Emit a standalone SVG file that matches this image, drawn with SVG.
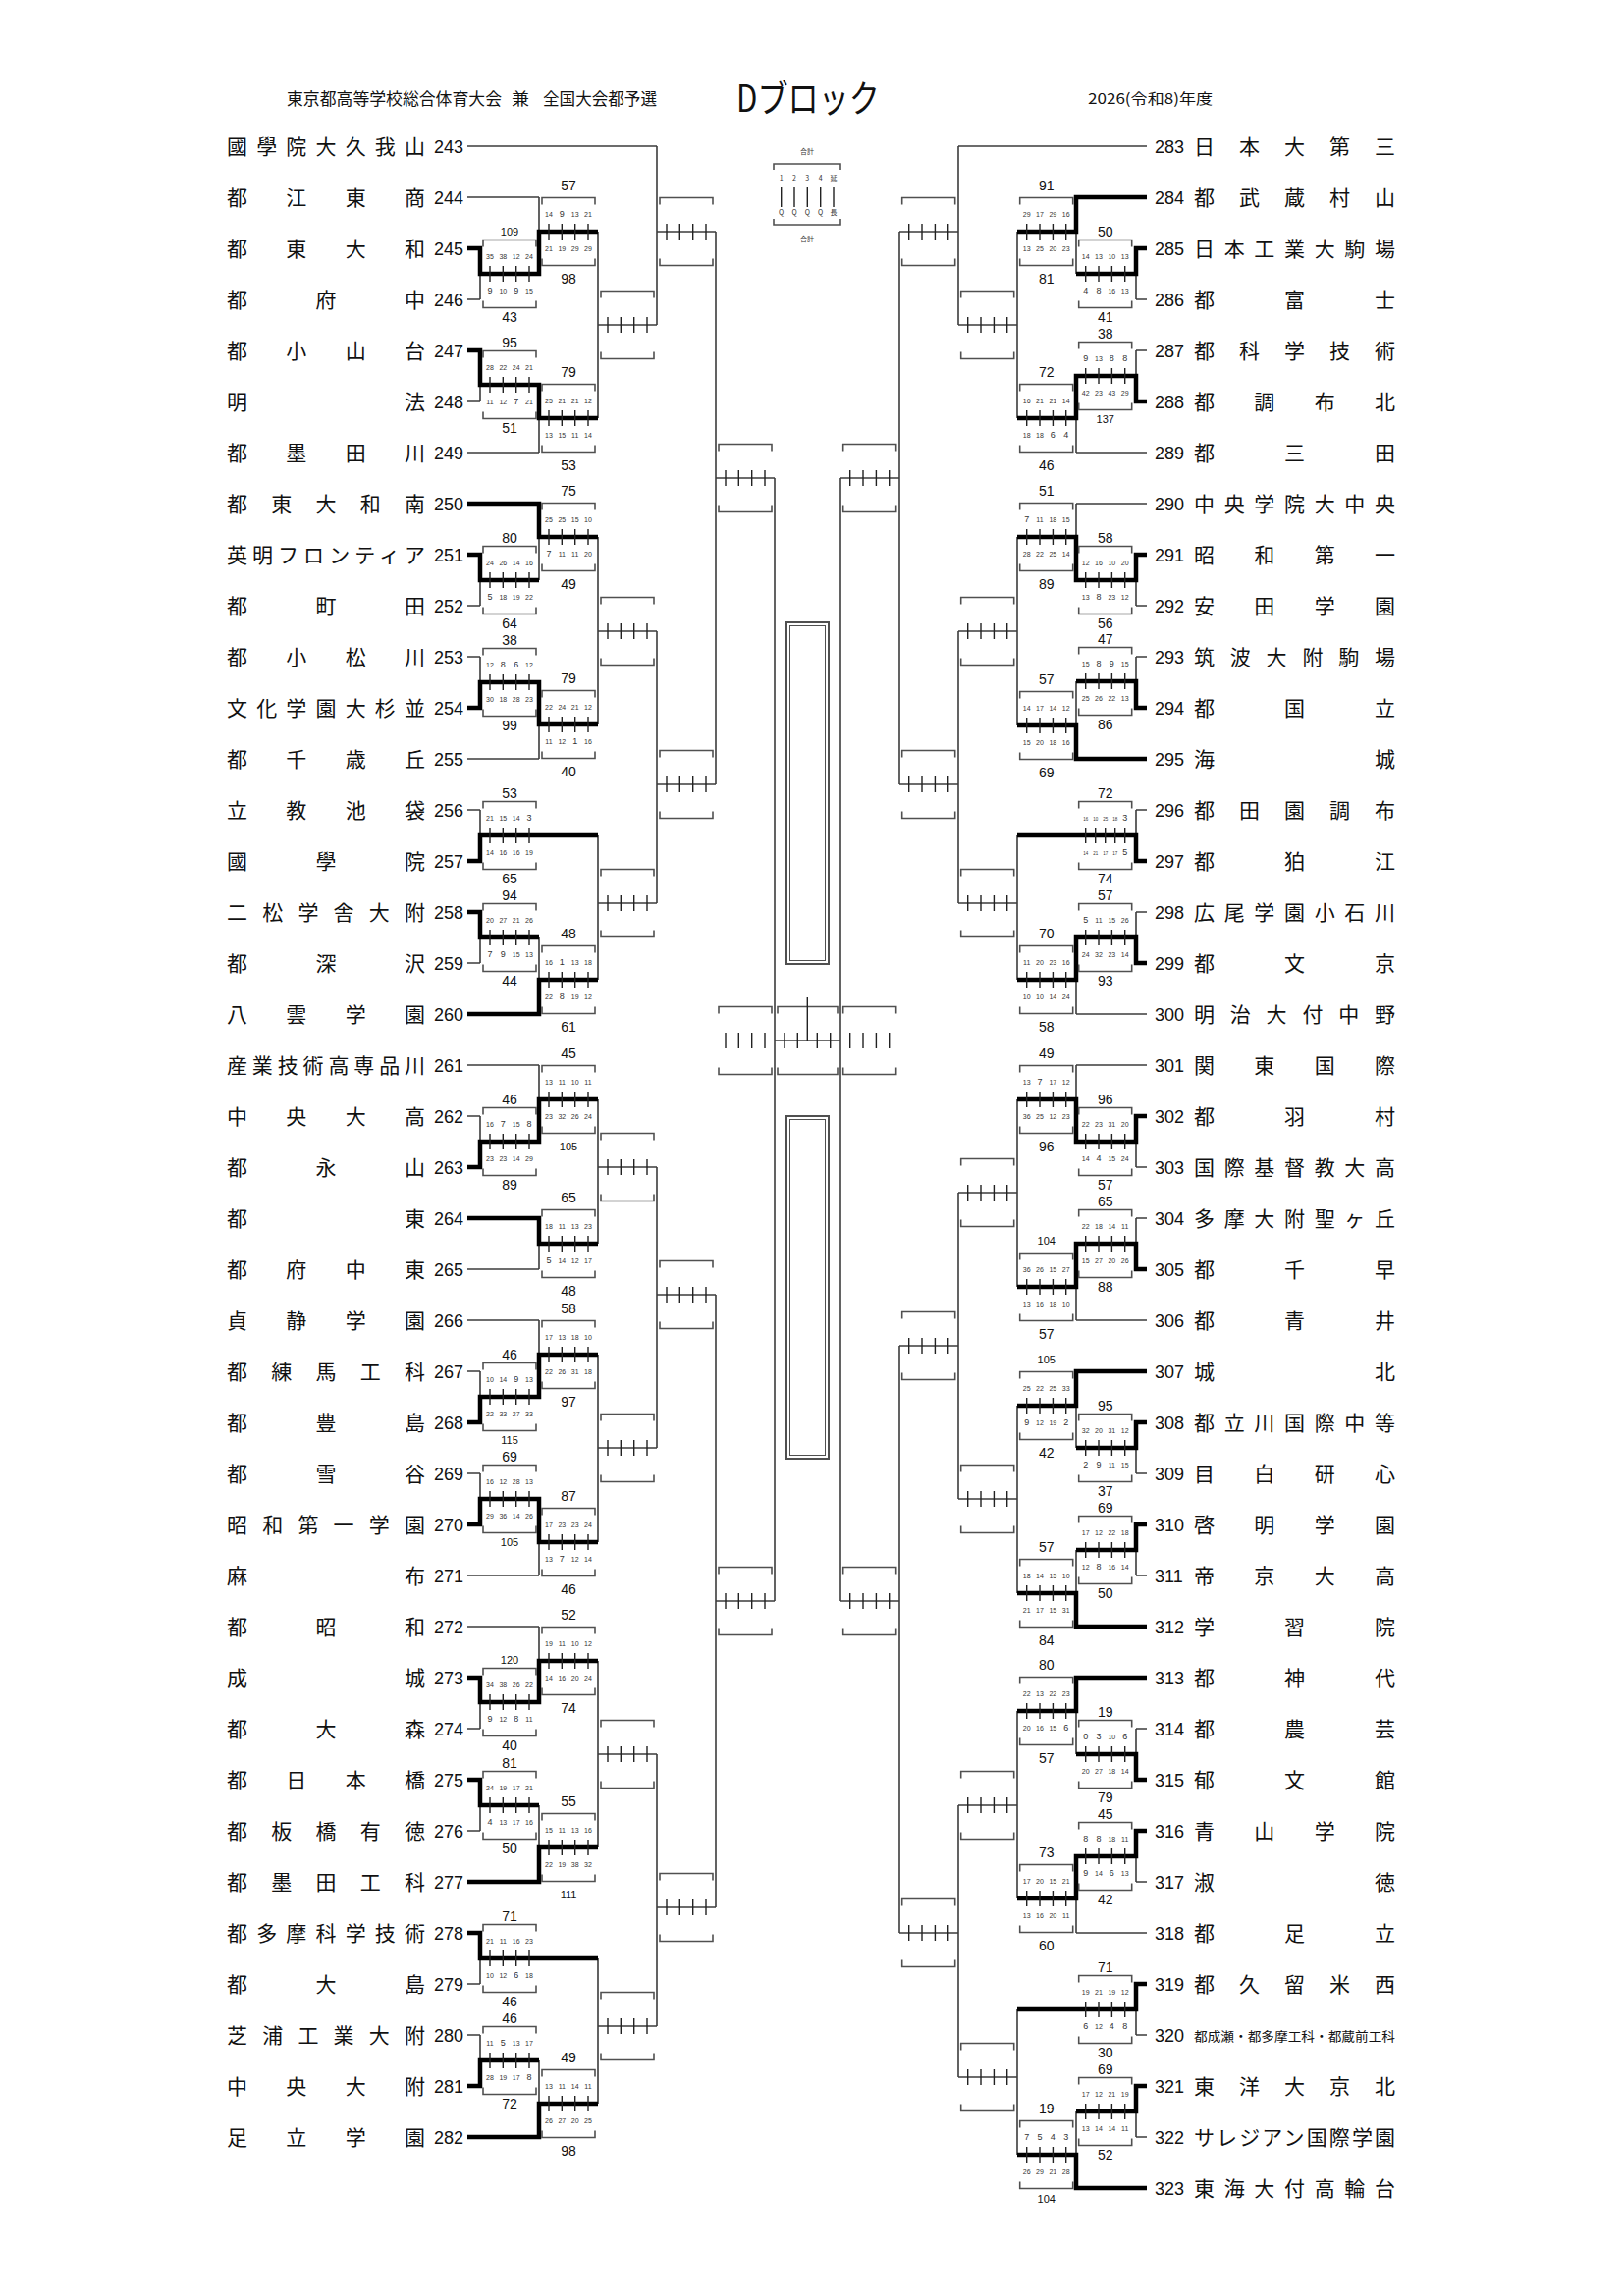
<svg xmlns="http://www.w3.org/2000/svg" width="1654" height="2339" viewBox="0 0 1654 2339">
<style>
.t{stroke:#3c3c3c;stroke-width:1.6;fill:none}
.w{stroke:#000;stroke-width:4.5;fill:none;stroke-linejoin:miter}
.bk{stroke:#505050;stroke-width:1.6;fill:none}
.tk{stroke:#222;stroke-width:1.4;fill:none}
.nm{font-family:"Noto Sans CJK JP",sans-serif;font-size:21px;fill:#111}
.no{font-family:"Liberation Sans","Noto Sans CJK JP",sans-serif;font-size:18px;fill:#111}
.s{font-family:"Liberation Sans",sans-serif;font-size:7px;fill:#333;text-anchor:middle}
.b{font-size:9px}
.tt{font-family:"Liberation Sans",sans-serif;font-size:14px;fill:#111;text-anchor:middle}
.t3{font-size:11px}
.hd{font-family:"Noto Sans CJK JP",sans-serif;fill:#111}
.lg{font-family:"Noto Sans CJK JP",sans-serif;font-size:7px;fill:#333;text-anchor:middle}
</style>
<defs>
<g id="bx"><path class="bk" d="M0,-27.5V-34.5H54V-27.5M0,27.5V34.5H54V27.5"/><path class="tk" d="M7,-8V8M20.3,-8V8M33.7,-8V8M47,-8V8"/></g>
<g id="bx5"><path class="bk" d="M0,-27.5V-34.5H54V-27.5M0,27.5V34.5H54V27.5"/><path class="tk" d="M7,-8V8M17,-8V8M27,-8V8M37,-8V8M47,-8V8"/></g>
</defs>
<rect width="1654" height="2339" fill="#fff"/>

<g id="header">
<text class="hd" x="292" y="107" style="font-size:17px" textLength="219" lengthAdjust="spacingAndGlyphs">東京都高等学校総合体育大会</text>
<text class="hd" x="521" y="107" style="font-size:17px" textLength="18" lengthAdjust="spacingAndGlyphs">兼</text>
<text class="hd" x="553" y="107" style="font-size:17px" textLength="116" lengthAdjust="spacingAndGlyphs">全国大会都予選</text>
<text class="hd" x="750" y="114" style="font-size:38px" textLength="146" lengthAdjust="spacingAndGlyphs">Dブロック</text>
<text class="hd" x="1108" y="106" style="font-size:15px" textLength="127" lengthAdjust="spacingAndGlyphs">2026(令和8)年度</text>
</g>

<g id="legend">
<text class="lg" x="822" y="157">合計</text>
<path class="bk" d="M788,173V167H856V173M788,223V229H856V223"/>
<text class="lg" y="184"><tspan x="795.7">1</tspan><tspan x="809">2</tspan><tspan x="822.3">3</tspan><tspan x="835.7">4</tspan><tspan x="849">延</tspan></text>
<path class="tk" d="M795.7,190V211M809,190V211M822.3,190V211M835.7,190V211M849,190V211"/>
<text class="lg" y="219"><tspan x="795.7">Q</tspan><tspan x="809">Q</tspan><tspan x="822.3">Q</tspan><tspan x="835.7">Q</tspan><tspan x="849">長</tspan></text>
<text class="lg" x="822" y="246">合計</text>
</g>

<g id="center">
<rect x="801" y="634" width="43" height="348" fill="none" stroke="#505050" stroke-width="2"/>
<rect x="804.5" y="637.5" width="36" height="341" fill="none" stroke="#505050" stroke-width="1"/>
<rect x="801" y="1137" width="43" height="349" fill="none" stroke="#505050" stroke-width="2"/>
<rect x="804.5" y="1140.5" width="36" height="342" fill="none" stroke="#505050" stroke-width="1"/>
</g>

<g id="connectors">
<path class="t" d="M476,149H669M476,201H549M476,253H489M476,305H489M476,357H489M476,409H489M476,461H549M476,513H549M476,565H489M476,617H489M476,669H489M476,721H489M476,773H549M476,825H489M476,877H489M476,929H489M476,981H489M476,1033H549M476,1085H549M476,1137H489M476,1189H489M476,1241H549M476,1293H549M476,1345H549M476,1397H489M476,1449H489M476,1501H489M476,1553H489M476,1605H549M476,1657H549M476,1709H489M476,1761H489M476,1813H489M476,1865H489M476,1917H549M476,1969H489M476,2021H489M476,2073H489M476,2125H489M476,2177H549
M489,253V305M489,279H549M489,357V409M489,392H549M489,565V617M489,591H549M489,669V721M489,695H549M489,825V877M489,851H609M489,929V981M489,955H549M489,1137V1189M489,1163H549M489,1397V1449M489,1423H549M489,1501V1553M489,1527H549M489,1709V1761M489,1734H549M489,1813V1865M489,1839H549M489,1969V2021M489,1995H609M489,2073V2125M489,2099H549
M549,201V279M549,236H609M549,392V461M549,426H609M549,513V591M549,547H609M549,695V773M549,738H609M549,955V1033M549,998H609M549,1085V1163M549,1120H609M549,1241V1293M549,1267H609M549,1345V1423M549,1380H609M549,1527V1605M549,1571H609M549,1657V1734M549,1692H609M549,1839V1917M549,1882H609M549,2099V2177M549,2143H609
M609,236V426M609,331H669M609,547V738M609,643H669M609,851V998M609,920H669M609,1120V1267M609,1189H669M609,1380V1571M609,1475H669M609,1692V1882M609,1787H669M609,1995V2143M609,2064H669
M669,149V331M669,236H729M669,643V920M669,799H729M669,1189V1475M669,1319H729M669,1787V2064M669,1943H729
M729,236V799M729,487H789M729,1319V1943M729,1631H789
M789,487V1631M789,1060H856M856,487V1631
M1168,149H976M1168,201H1096M1168,253H1157M1168,305H1157M1168,357H1157M1168,409H1157M1168,461H1096M1168,513H1096M1168,565H1157M1168,617H1157M1168,669H1157M1168,721H1157M1168,773H1096M1168,825H1157M1168,877H1157M1168,929H1157M1168,981H1157M1168,1033H1096M1168,1085H1096M1168,1137H1157M1168,1189H1157M1168,1241H1157M1168,1293H1157M1168,1345H1096M1168,1397H1096M1168,1449H1157M1168,1501H1157M1168,1553H1157M1168,1605H1157M1168,1657H1096M1168,1709H1096M1168,1761H1157M1168,1813H1157M1168,1865H1157M1168,1917H1157M1168,1969H1096M1168,2021H1157M1168,2073H1157M1168,2125H1157M1168,2177H1157M1168,2229H1096
M1157,253V305M1157,279H1096M1157,357V409M1157,383H1096M1157,565V617M1157,591H1096M1157,669V721M1157,694H1096M1157,825V877M1157,851H1036M1157,929V981M1157,955H1096M1157,1137V1189M1157,1163H1096M1157,1241V1293M1157,1267H1096M1157,1449V1501M1157,1475H1096M1157,1553V1605M1157,1579H1096M1157,1761V1813M1157,1787H1096M1157,1865V1917M1157,1891H1096M1157,2021V2073M1157,2047H1036M1157,2125V2177M1157,2151H1096
M1096,201V279M1096,236H1036M1096,383V461M1096,426H1036M1096,513V591M1096,547H1036M1096,694V773M1096,739H1036M1096,955V1033M1096,998H1036M1096,1085V1163M1096,1120H1036M1096,1267V1345M1096,1311H1036M1096,1397V1475M1096,1432H1036M1096,1579V1657M1096,1623H1036M1096,1709V1787M1096,1743H1036M1096,1891V1969M1096,1934H1036M1096,2151V2229M1096,2195H1036
M1036,236V426M1036,331H976M1036,547V739M1036,643H976M1036,851V998M1036,920H976M1036,1120V1311M1036,1215H976M1036,1432V1623M1036,1527H976M1036,1743V1934M1036,1839H976M1036,2047V2195M1036,2116H976
M976,149V331M976,236H916M976,643V920M976,799H916M976,1215V1527M976,1371H916M976,1839V2116M976,1969H916
M916,236V799M916,487H856M916,1371V1969M916,1631H856"/>
<path class="w" d="M476,253H489V279H549V236H609M476,357H489V392H549V426H609M476,513H549V547H609M476,565H489V591H549M476,721H489V695H549V738H609M476,877H489V851H609M476,929H489V955H549M476,1033H549V998H609M476,1189H489V1163H549V1120H609M476,1241H549V1267H609M476,1449H489V1423H549V1380H609M476,1553H489V1527H549V1571H609M476,1709H489V1734H549V1692H609M476,1813H489V1839H549M476,1917H549V1882H609M476,1969H489V1995H609M476,2125H489V2099H549M476,2177H549V2143H609"/>
<path class="w" d="M1168,201H1096V236H1036M1168,253H1157V279H1096M1168,409H1157V383H1096V426H1036M1168,565H1157V591H1096V547H1036M1168,721H1157V694H1096M1168,773H1096V739H1036M1168,877H1157V851H1036M1168,981H1157V955H1096V998H1036M1168,1137H1157V1163H1096V1120H1036M1168,1293H1157V1267H1096V1311H1036M1168,1397H1096V1432H1036M1168,1449H1157V1475H1096M1168,1553H1157V1579H1096M1168,1657H1096V1623H1036M1168,1709H1096V1743H1036M1168,1813H1157V1787H1096M1168,1865H1157V1891H1096V1934H1036M1168,2021H1157V2047H1036M1168,2125H1157V2151H1096M1168,2229H1096V2195H1036"/>
</g>

<g id="teams-left">
<g id="t243"><text class="no" x="472" y="156" text-anchor="end">243</text><text class="nm" x="231" y="156.5" textLength="202" lengthAdjust="spacing">國學院大久我山</text></g>
<g id="t244"><text class="no" x="472" y="208" text-anchor="end">244</text><text class="nm" x="231" y="208.5" textLength="202" lengthAdjust="spacing">都江東商</text></g>
<g id="t245"><text class="no" x="472" y="260" text-anchor="end">245</text><text class="nm" x="231" y="260.5" textLength="202" lengthAdjust="spacing">都東大和</text></g>
<g id="t246"><text class="no" x="472" y="312" text-anchor="end">246</text><text class="nm" x="231" y="312.5" textLength="202" lengthAdjust="spacing">都府中</text></g>
<g id="t247"><text class="no" x="472" y="364" text-anchor="end">247</text><text class="nm" x="231" y="364.5" textLength="202" lengthAdjust="spacing">都小山台</text></g>
<g id="t248"><text class="no" x="472" y="416" text-anchor="end">248</text><text class="nm" x="231" y="416.5" textLength="202" lengthAdjust="spacing">明法</text></g>
<g id="t249"><text class="no" x="472" y="468" text-anchor="end">249</text><text class="nm" x="231" y="468.5" textLength="202" lengthAdjust="spacing">都墨田川</text></g>
<g id="t250"><text class="no" x="472" y="520" text-anchor="end">250</text><text class="nm" x="231" y="520.5" textLength="202" lengthAdjust="spacing">都東大和南</text></g>
<g id="t251"><text class="no" x="472" y="572" text-anchor="end">251</text><text class="nm" x="231" y="572.5" textLength="202" lengthAdjust="spacing">英明フロンティア</text></g>
<g id="t252"><text class="no" x="472" y="624" text-anchor="end">252</text><text class="nm" x="231" y="624.5" textLength="202" lengthAdjust="spacing">都町田</text></g>
<g id="t253"><text class="no" x="472" y="676" text-anchor="end">253</text><text class="nm" x="231" y="676.5" textLength="202" lengthAdjust="spacing">都小松川</text></g>
<g id="t254"><text class="no" x="472" y="728" text-anchor="end">254</text><text class="nm" x="231" y="728.5" textLength="202" lengthAdjust="spacing">文化学園大杉並</text></g>
<g id="t255"><text class="no" x="472" y="780" text-anchor="end">255</text><text class="nm" x="231" y="780.5" textLength="202" lengthAdjust="spacing">都千歳丘</text></g>
<g id="t256"><text class="no" x="472" y="832" text-anchor="end">256</text><text class="nm" x="231" y="832.5" textLength="202" lengthAdjust="spacing">立教池袋</text></g>
<g id="t257"><text class="no" x="472" y="884" text-anchor="end">257</text><text class="nm" x="231" y="884.5" textLength="202" lengthAdjust="spacing">國學院</text></g>
<g id="t258"><text class="no" x="472" y="936" text-anchor="end">258</text><text class="nm" x="231" y="936.5" textLength="202" lengthAdjust="spacing">二松学舎大附</text></g>
<g id="t259"><text class="no" x="472" y="988" text-anchor="end">259</text><text class="nm" x="231" y="988.5" textLength="202" lengthAdjust="spacing">都深沢</text></g>
<g id="t260"><text class="no" x="472" y="1040" text-anchor="end">260</text><text class="nm" x="231" y="1040.5" textLength="202" lengthAdjust="spacing">八雲学園</text></g>
<g id="t261"><text class="no" x="472" y="1092" text-anchor="end">261</text><text class="nm" x="231" y="1092.5" textLength="202" lengthAdjust="spacing">産業技術高専品川</text></g>
<g id="t262"><text class="no" x="472" y="1144" text-anchor="end">262</text><text class="nm" x="231" y="1144.5" textLength="202" lengthAdjust="spacing">中央大高</text></g>
<g id="t263"><text class="no" x="472" y="1196" text-anchor="end">263</text><text class="nm" x="231" y="1196.5" textLength="202" lengthAdjust="spacing">都永山</text></g>
<g id="t264"><text class="no" x="472" y="1248" text-anchor="end">264</text><text class="nm" x="231" y="1248.5" textLength="202" lengthAdjust="spacing">都東</text></g>
<g id="t265"><text class="no" x="472" y="1300" text-anchor="end">265</text><text class="nm" x="231" y="1300.5" textLength="202" lengthAdjust="spacing">都府中東</text></g>
<g id="t266"><text class="no" x="472" y="1352" text-anchor="end">266</text><text class="nm" x="231" y="1352.5" textLength="202" lengthAdjust="spacing">貞静学園</text></g>
<g id="t267"><text class="no" x="472" y="1404" text-anchor="end">267</text><text class="nm" x="231" y="1404.5" textLength="202" lengthAdjust="spacing">都練馬工科</text></g>
<g id="t268"><text class="no" x="472" y="1456" text-anchor="end">268</text><text class="nm" x="231" y="1456.5" textLength="202" lengthAdjust="spacing">都豊島</text></g>
<g id="t269"><text class="no" x="472" y="1508" text-anchor="end">269</text><text class="nm" x="231" y="1508.5" textLength="202" lengthAdjust="spacing">都雪谷</text></g>
<g id="t270"><text class="no" x="472" y="1560" text-anchor="end">270</text><text class="nm" x="231" y="1560.5" textLength="202" lengthAdjust="spacing">昭和第一学園</text></g>
<g id="t271"><text class="no" x="472" y="1612" text-anchor="end">271</text><text class="nm" x="231" y="1612.5" textLength="202" lengthAdjust="spacing">麻布</text></g>
<g id="t272"><text class="no" x="472" y="1664" text-anchor="end">272</text><text class="nm" x="231" y="1664.5" textLength="202" lengthAdjust="spacing">都昭和</text></g>
<g id="t273"><text class="no" x="472" y="1716" text-anchor="end">273</text><text class="nm" x="231" y="1716.5" textLength="202" lengthAdjust="spacing">成城</text></g>
<g id="t274"><text class="no" x="472" y="1768" text-anchor="end">274</text><text class="nm" x="231" y="1768.5" textLength="202" lengthAdjust="spacing">都大森</text></g>
<g id="t275"><text class="no" x="472" y="1820" text-anchor="end">275</text><text class="nm" x="231" y="1820.5" textLength="202" lengthAdjust="spacing">都日本橋</text></g>
<g id="t276"><text class="no" x="472" y="1872" text-anchor="end">276</text><text class="nm" x="231" y="1872.5" textLength="202" lengthAdjust="spacing">都板橋有徳</text></g>
<g id="t277"><text class="no" x="472" y="1924" text-anchor="end">277</text><text class="nm" x="231" y="1924.5" textLength="202" lengthAdjust="spacing">都墨田工科</text></g>
<g id="t278"><text class="no" x="472" y="1976" text-anchor="end">278</text><text class="nm" x="231" y="1976.5" textLength="202" lengthAdjust="spacing">都多摩科学技術</text></g>
<g id="t279"><text class="no" x="472" y="2028" text-anchor="end">279</text><text class="nm" x="231" y="2028.5" textLength="202" lengthAdjust="spacing">都大島</text></g>
<g id="t280"><text class="no" x="472" y="2080" text-anchor="end">280</text><text class="nm" x="231" y="2080.5" textLength="202" lengthAdjust="spacing">芝浦工業大附</text></g>
<g id="t281"><text class="no" x="472" y="2132" text-anchor="end">281</text><text class="nm" x="231" y="2132.5" textLength="202" lengthAdjust="spacing">中央大附</text></g>
<g id="t282"><text class="no" x="472" y="2184" text-anchor="end">282</text><text class="nm" x="231" y="2184.5" textLength="202" lengthAdjust="spacing">足立学園</text></g>
</g>

<g id="teams-right">
<g id="t283"><text class="no" x="1176" y="156">283</text><text class="nm" x="1216" y="156.5" textLength="205" lengthAdjust="spacing">日本大第三</text></g>
<g id="t284"><text class="no" x="1176" y="208">284</text><text class="nm" x="1216" y="208.5" textLength="205" lengthAdjust="spacing">都武蔵村山</text></g>
<g id="t285"><text class="no" x="1176" y="260">285</text><text class="nm" x="1216" y="260.5" textLength="205" lengthAdjust="spacing">日本工業大駒場</text></g>
<g id="t286"><text class="no" x="1176" y="312">286</text><text class="nm" x="1216" y="312.5" textLength="205" lengthAdjust="spacing">都富士</text></g>
<g id="t287"><text class="no" x="1176" y="364">287</text><text class="nm" x="1216" y="364.5" textLength="205" lengthAdjust="spacing">都科学技術</text></g>
<g id="t288"><text class="no" x="1176" y="416">288</text><text class="nm" x="1216" y="416.5" textLength="205" lengthAdjust="spacing">都調布北</text></g>
<g id="t289"><text class="no" x="1176" y="468">289</text><text class="nm" x="1216" y="468.5" textLength="205" lengthAdjust="spacing">都三田</text></g>
<g id="t290"><text class="no" x="1176" y="520">290</text><text class="nm" x="1216" y="520.5" textLength="205" lengthAdjust="spacing">中央学院大中央</text></g>
<g id="t291"><text class="no" x="1176" y="572">291</text><text class="nm" x="1216" y="572.5" textLength="205" lengthAdjust="spacing">昭和第一</text></g>
<g id="t292"><text class="no" x="1176" y="624">292</text><text class="nm" x="1216" y="624.5" textLength="205" lengthAdjust="spacing">安田学園</text></g>
<g id="t293"><text class="no" x="1176" y="676">293</text><text class="nm" x="1216" y="676.5" textLength="205" lengthAdjust="spacing">筑波大附駒場</text></g>
<g id="t294"><text class="no" x="1176" y="728">294</text><text class="nm" x="1216" y="728.5" textLength="205" lengthAdjust="spacing">都国立</text></g>
<g id="t295"><text class="no" x="1176" y="780">295</text><text class="nm" x="1216" y="780.5" textLength="205" lengthAdjust="spacing">海城</text></g>
<g id="t296"><text class="no" x="1176" y="832">296</text><text class="nm" x="1216" y="832.5" textLength="205" lengthAdjust="spacing">都田園調布</text></g>
<g id="t297"><text class="no" x="1176" y="884">297</text><text class="nm" x="1216" y="884.5" textLength="205" lengthAdjust="spacing">都狛江</text></g>
<g id="t298"><text class="no" x="1176" y="936">298</text><text class="nm" x="1216" y="936.5" textLength="205" lengthAdjust="spacing">広尾学園小石川</text></g>
<g id="t299"><text class="no" x="1176" y="988">299</text><text class="nm" x="1216" y="988.5" textLength="205" lengthAdjust="spacing">都文京</text></g>
<g id="t300"><text class="no" x="1176" y="1040">300</text><text class="nm" x="1216" y="1040.5" textLength="205" lengthAdjust="spacing">明治大付中野</text></g>
<g id="t301"><text class="no" x="1176" y="1092">301</text><text class="nm" x="1216" y="1092.5" textLength="205" lengthAdjust="spacing">関東国際</text></g>
<g id="t302"><text class="no" x="1176" y="1144">302</text><text class="nm" x="1216" y="1144.5" textLength="205" lengthAdjust="spacing">都羽村</text></g>
<g id="t303"><text class="no" x="1176" y="1196">303</text><text class="nm" x="1216" y="1196.5" textLength="205" lengthAdjust="spacing">国際基督教大高</text></g>
<g id="t304"><text class="no" x="1176" y="1248">304</text><text class="nm" x="1216" y="1248.5" textLength="205" lengthAdjust="spacing">多摩大附聖ヶ丘</text></g>
<g id="t305"><text class="no" x="1176" y="1300">305</text><text class="nm" x="1216" y="1300.5" textLength="205" lengthAdjust="spacing">都千早</text></g>
<g id="t306"><text class="no" x="1176" y="1352">306</text><text class="nm" x="1216" y="1352.5" textLength="205" lengthAdjust="spacing">都青井</text></g>
<g id="t307"><text class="no" x="1176" y="1404">307</text><text class="nm" x="1216" y="1404.5" textLength="205" lengthAdjust="spacing">城北</text></g>
<g id="t308"><text class="no" x="1176" y="1456">308</text><text class="nm" x="1216" y="1456.5" textLength="205" lengthAdjust="spacing">都立川国際中等</text></g>
<g id="t309"><text class="no" x="1176" y="1508">309</text><text class="nm" x="1216" y="1508.5" textLength="205" lengthAdjust="spacing">目白研心</text></g>
<g id="t310"><text class="no" x="1176" y="1560">310</text><text class="nm" x="1216" y="1560.5" textLength="205" lengthAdjust="spacing">啓明学園</text></g>
<g id="t311"><text class="no" x="1176" y="1612">311</text><text class="nm" x="1216" y="1612.5" textLength="205" lengthAdjust="spacing">帝京大高</text></g>
<g id="t312"><text class="no" x="1176" y="1664">312</text><text class="nm" x="1216" y="1664.5" textLength="205" lengthAdjust="spacing">学習院</text></g>
<g id="t313"><text class="no" x="1176" y="1716">313</text><text class="nm" x="1216" y="1716.5" textLength="205" lengthAdjust="spacing">都神代</text></g>
<g id="t314"><text class="no" x="1176" y="1768">314</text><text class="nm" x="1216" y="1768.5" textLength="205" lengthAdjust="spacing">都農芸</text></g>
<g id="t315"><text class="no" x="1176" y="1820">315</text><text class="nm" x="1216" y="1820.5" textLength="205" lengthAdjust="spacing">郁文館</text></g>
<g id="t316"><text class="no" x="1176" y="1872">316</text><text class="nm" x="1216" y="1872.5" textLength="205" lengthAdjust="spacing">青山学院</text></g>
<g id="t317"><text class="no" x="1176" y="1924">317</text><text class="nm" x="1216" y="1924.5" textLength="205" lengthAdjust="spacing">淑徳</text></g>
<g id="t318"><text class="no" x="1176" y="1976">318</text><text class="nm" x="1216" y="1976.5" textLength="205" lengthAdjust="spacing">都足立</text></g>
<g id="t319"><text class="no" x="1176" y="2028">319</text><text class="nm" x="1216" y="2028.5" textLength="205" lengthAdjust="spacing">都久留米西</text></g>
<g id="t320"><text class="no" x="1176" y="2080">320</text><text class="nm" x="1216" y="2078.5" style="font-size:13px" textLength="205" lengthAdjust="spacingAndGlyphs">都成瀬・都多摩工科・都蔵前工科</text></g>
<g id="t321"><text class="no" x="1176" y="2132">321</text><text class="nm" x="1216" y="2132.5" textLength="205" lengthAdjust="spacing">東洋大京北</text></g>
<g id="t322"><text class="no" x="1176" y="2184">322</text><text class="nm" x="1216" y="2184.5" textLength="205" lengthAdjust="spacing">サレジアン国際学園</text></g>
<g id="t323"><text class="no" x="1176" y="2236">323</text><text class="nm" x="1216" y="2236.5" textLength="205" lengthAdjust="spacing">東海大付高輪台</text></g>
</g>

<g id="matches-left">
<g id="mL1-279"><use href="#bx" x="492" y="279"/><text class="s" y="264"><tspan x="499">35</tspan><tspan x="512.3">38</tspan><tspan x="525.7">12</tspan><tspan x="539">24</tspan></text><text class="s" y="298.5"><tspan x="499" class="b">9</tspan><tspan x="512.3">10</tspan><tspan x="525.7" class="b">9</tspan><tspan x="539">15</tspan></text><text class="tt t3" x="519" y="239.5">109</text><text class="tt" x="519" y="327.5">43</text></g>
<g id="mL1-392"><use href="#bx" x="492" y="392"/><text class="s" y="377"><tspan x="499">28</tspan><tspan x="512.3">22</tspan><tspan x="525.7">24</tspan><tspan x="539">21</tspan></text><text class="s" y="411.5"><tspan x="499">11</tspan><tspan x="512.3">12</tspan><tspan x="525.7" class="b">7</tspan><tspan x="539">21</tspan></text><text class="tt" x="519" y="353.5">95</text><text class="tt" x="519" y="440.5">51</text></g>
<g id="mL1-591"><use href="#bx" x="492" y="591"/><text class="s" y="576"><tspan x="499">24</tspan><tspan x="512.3">26</tspan><tspan x="525.7">14</tspan><tspan x="539">16</tspan></text><text class="s" y="610.5"><tspan x="499" class="b">5</tspan><tspan x="512.3">18</tspan><tspan x="525.7">19</tspan><tspan x="539">22</tspan></text><text class="tt" x="519" y="552.5">80</text><text class="tt" x="519" y="639.5">64</text></g>
<g id="mL1-695"><use href="#bx" x="492" y="695"/><text class="s" y="680"><tspan x="499">12</tspan><tspan x="512.3" class="b">8</tspan><tspan x="525.7" class="b">6</tspan><tspan x="539">12</tspan></text><text class="s" y="714.5"><tspan x="499">30</tspan><tspan x="512.3">18</tspan><tspan x="525.7">28</tspan><tspan x="539">23</tspan></text><text class="tt" x="519" y="656.5">38</text><text class="tt" x="519" y="743.5">99</text></g>
<g id="mL1-851"><use href="#bx" x="492" y="851"/><text class="s" y="836"><tspan x="499">21</tspan><tspan x="512.3">15</tspan><tspan x="525.7">14</tspan><tspan x="539" class="b">3</tspan></text><text class="s" y="870.5"><tspan x="499">14</tspan><tspan x="512.3">16</tspan><tspan x="525.7">16</tspan><tspan x="539">19</tspan></text><text class="tt" x="519" y="812.5">53</text><text class="tt" x="519" y="899.5">65</text></g>
<g id="mL1-955"><use href="#bx" x="492" y="955"/><text class="s" y="940"><tspan x="499">20</tspan><tspan x="512.3">27</tspan><tspan x="525.7">21</tspan><tspan x="539">26</tspan></text><text class="s" y="974.5"><tspan x="499" class="b">7</tspan><tspan x="512.3" class="b">9</tspan><tspan x="525.7">15</tspan><tspan x="539">13</tspan></text><text class="tt" x="519" y="916.5">94</text><text class="tt" x="519" y="1003.5">44</text></g>
<g id="mL1-1163"><use href="#bx" x="492" y="1163"/><text class="s" y="1148"><tspan x="499">16</tspan><tspan x="512.3" class="b">7</tspan><tspan x="525.7">15</tspan><tspan x="539" class="b">8</tspan></text><text class="s" y="1182.5"><tspan x="499">23</tspan><tspan x="512.3">23</tspan><tspan x="525.7">14</tspan><tspan x="539">29</tspan></text><text class="tt" x="519" y="1124.5">46</text><text class="tt" x="519" y="1211.5">89</text></g>
<g id="mL1-1423"><use href="#bx" x="492" y="1423"/><text class="s" y="1408"><tspan x="499">10</tspan><tspan x="512.3">14</tspan><tspan x="525.7" class="b">9</tspan><tspan x="539">13</tspan></text><text class="s" y="1442.5"><tspan x="499">22</tspan><tspan x="512.3">33</tspan><tspan x="525.7">27</tspan><tspan x="539">33</tspan></text><text class="tt" x="519" y="1384.5">46</text><text class="tt t3" x="519" y="1470.5">115</text></g>
<g id="mL1-1527"><use href="#bx" x="492" y="1527"/><text class="s" y="1512"><tspan x="499">16</tspan><tspan x="512.3">12</tspan><tspan x="525.7">28</tspan><tspan x="539">13</tspan></text><text class="s" y="1546.5"><tspan x="499">29</tspan><tspan x="512.3">36</tspan><tspan x="525.7">14</tspan><tspan x="539">26</tspan></text><text class="tt" x="519" y="1488.5">69</text><text class="tt t3" x="519" y="1574.5">105</text></g>
<g id="mL1-1734"><use href="#bx" x="492" y="1734"/><text class="s" y="1719"><tspan x="499">34</tspan><tspan x="512.3">38</tspan><tspan x="525.7">26</tspan><tspan x="539">22</tspan></text><text class="s" y="1753.5"><tspan x="499" class="b">9</tspan><tspan x="512.3">12</tspan><tspan x="525.7" class="b">8</tspan><tspan x="539">11</tspan></text><text class="tt t3" x="519" y="1694.5">120</text><text class="tt" x="519" y="1782.5">40</text></g>
<g id="mL1-1839"><use href="#bx" x="492" y="1839"/><text class="s" y="1824"><tspan x="499">24</tspan><tspan x="512.3">19</tspan><tspan x="525.7">17</tspan><tspan x="539">21</tspan></text><text class="s" y="1858.5"><tspan x="499" class="b">4</tspan><tspan x="512.3">13</tspan><tspan x="525.7">17</tspan><tspan x="539">16</tspan></text><text class="tt" x="519" y="1800.5">81</text><text class="tt" x="519" y="1887.5">50</text></g>
<g id="mL1-1995"><use href="#bx" x="492" y="1995"/><text class="s" y="1980"><tspan x="499">21</tspan><tspan x="512.3">11</tspan><tspan x="525.7">16</tspan><tspan x="539">23</tspan></text><text class="s" y="2014.5"><tspan x="499">10</tspan><tspan x="512.3">12</tspan><tspan x="525.7" class="b">6</tspan><tspan x="539">18</tspan></text><text class="tt" x="519" y="1956.5">71</text><text class="tt" x="519" y="2043.5">46</text></g>
<g id="mL1-2099"><use href="#bx" x="492" y="2099"/><text class="s" y="2084"><tspan x="499">11</tspan><tspan x="512.3" class="b">5</tspan><tspan x="525.7">13</tspan><tspan x="539">17</tspan></text><text class="s" y="2118.5"><tspan x="499">28</tspan><tspan x="512.3">19</tspan><tspan x="525.7">17</tspan><tspan x="539" class="b">8</tspan></text><text class="tt" x="519" y="2060.5">46</text><text class="tt" x="519" y="2147.5">72</text></g>

<g id="mL2-236"><use href="#bx" x="552" y="236"/><text class="s" y="221"><tspan x="559">14</tspan><tspan x="572.3" class="b">9</tspan><tspan x="585.7">13</tspan><tspan x="599">21</tspan></text><text class="s" y="255.5"><tspan x="559">21</tspan><tspan x="572.3">19</tspan><tspan x="585.7">29</tspan><tspan x="599">29</tspan></text><text class="tt" x="579" y="193.5">57</text><text class="tt" x="579" y="288.5">98</text></g>
<g id="mL2-426"><use href="#bx" x="552" y="426"/><text class="s" y="411"><tspan x="559">25</tspan><tspan x="572.3">21</tspan><tspan x="585.7">21</tspan><tspan x="599">12</tspan></text><text class="s" y="445.5"><tspan x="559">13</tspan><tspan x="572.3">15</tspan><tspan x="585.7">11</tspan><tspan x="599">14</tspan></text><text class="tt" x="579" y="383.5">79</text><text class="tt" x="579" y="478.5">53</text></g>
<g id="mL2-547"><use href="#bx" x="552" y="547"/><text class="s" y="532"><tspan x="559">25</tspan><tspan x="572.3">25</tspan><tspan x="585.7">15</tspan><tspan x="599">10</tspan></text><text class="s" y="566.5"><tspan x="559" class="b">7</tspan><tspan x="572.3">11</tspan><tspan x="585.7">11</tspan><tspan x="599">20</tspan></text><text class="tt" x="579" y="504.5">75</text><text class="tt" x="579" y="599.5">49</text></g>
<g id="mL2-738"><use href="#bx" x="552" y="738"/><text class="s" y="723"><tspan x="559">22</tspan><tspan x="572.3">24</tspan><tspan x="585.7">21</tspan><tspan x="599">12</tspan></text><text class="s" y="757.5"><tspan x="559">11</tspan><tspan x="572.3">12</tspan><tspan x="585.7" class="b">1</tspan><tspan x="599">16</tspan></text><text class="tt" x="579" y="695.5">79</text><text class="tt" x="579" y="790.5">40</text></g>
<g id="mL2-998"><use href="#bx" x="552" y="998"/><text class="s" y="983"><tspan x="559">16</tspan><tspan x="572.3" class="b">1</tspan><tspan x="585.7">13</tspan><tspan x="599">18</tspan></text><text class="s" y="1017.5"><tspan x="559">22</tspan><tspan x="572.3" class="b">8</tspan><tspan x="585.7">19</tspan><tspan x="599">12</tspan></text><text class="tt" x="579" y="955.5">48</text><text class="tt" x="579" y="1050.5">61</text></g>
<g id="mL2-1120"><use href="#bx" x="552" y="1120"/><text class="s" y="1105"><tspan x="559">13</tspan><tspan x="572.3">11</tspan><tspan x="585.7">10</tspan><tspan x="599">11</tspan></text><text class="s" y="1139.5"><tspan x="559">23</tspan><tspan x="572.3">32</tspan><tspan x="585.7">26</tspan><tspan x="599">24</tspan></text><text class="tt" x="579" y="1077.5">45</text><text class="tt t3" x="579" y="1171.5">105</text></g>
<g id="mL2-1267"><use href="#bx" x="552" y="1267"/><text class="s" y="1252"><tspan x="559">18</tspan><tspan x="572.3">11</tspan><tspan x="585.7">13</tspan><tspan x="599">23</tspan></text><text class="s" y="1286.5"><tspan x="559" class="b">5</tspan><tspan x="572.3">14</tspan><tspan x="585.7">12</tspan><tspan x="599">17</tspan></text><text class="tt" x="579" y="1224.5">65</text><text class="tt" x="579" y="1319.5">48</text></g>
<g id="mL2-1380"><use href="#bx" x="552" y="1380"/><text class="s" y="1365"><tspan x="559">17</tspan><tspan x="572.3">13</tspan><tspan x="585.7">18</tspan><tspan x="599">10</tspan></text><text class="s" y="1399.5"><tspan x="559">22</tspan><tspan x="572.3">26</tspan><tspan x="585.7">31</tspan><tspan x="599">18</tspan></text><text class="tt" x="579" y="1337.5">58</text><text class="tt" x="579" y="1432.5">97</text></g>
<g id="mL2-1571"><use href="#bx" x="552" y="1571"/><text class="s" y="1556"><tspan x="559">17</tspan><tspan x="572.3">23</tspan><tspan x="585.7">23</tspan><tspan x="599">24</tspan></text><text class="s" y="1590.5"><tspan x="559">13</tspan><tspan x="572.3" class="b">7</tspan><tspan x="585.7">12</tspan><tspan x="599">14</tspan></text><text class="tt" x="579" y="1528.5">87</text><text class="tt" x="579" y="1623.5">46</text></g>
<g id="mL2-1692"><use href="#bx" x="552" y="1692"/><text class="s" y="1677"><tspan x="559">19</tspan><tspan x="572.3">11</tspan><tspan x="585.7">10</tspan><tspan x="599">12</tspan></text><text class="s" y="1711.5"><tspan x="559">14</tspan><tspan x="572.3">16</tspan><tspan x="585.7">20</tspan><tspan x="599">24</tspan></text><text class="tt" x="579" y="1649.5">52</text><text class="tt" x="579" y="1744.5">74</text></g>
<g id="mL2-1882"><use href="#bx" x="552" y="1882"/><text class="s" y="1867"><tspan x="559">15</tspan><tspan x="572.3">11</tspan><tspan x="585.7">13</tspan><tspan x="599">16</tspan></text><text class="s" y="1901.5"><tspan x="559">22</tspan><tspan x="572.3">19</tspan><tspan x="585.7">38</tspan><tspan x="599">32</tspan></text><text class="tt" x="579" y="1839.5">55</text><text class="tt t3" x="579" y="1933.5">111</text></g>
<g id="mL2-2143"><use href="#bx" x="552" y="2143"/><text class="s" y="2128"><tspan x="559">13</tspan><tspan x="572.3">11</tspan><tspan x="585.7">14</tspan><tspan x="599">11</tspan></text><text class="s" y="2162.5"><tspan x="559">26</tspan><tspan x="572.3">27</tspan><tspan x="585.7">20</tspan><tspan x="599">25</tspan></text><text class="tt" x="579" y="2100.5">49</text><text class="tt" x="579" y="2195.5">98</text></g>

<g id="mL3"><use href="#bx" x="612" y="331"/><use href="#bx" x="612" y="643"/><use href="#bx" x="612" y="920"/><use href="#bx" x="612" y="1189"/><use href="#bx" x="612" y="1475"/><use href="#bx" x="612" y="1787"/><use href="#bx" x="612" y="2064"/></g>
<g id="mL4"><use href="#bx" x="672" y="236"/><use href="#bx" x="672" y="799"/><use href="#bx" x="672" y="1319"/><use href="#bx" x="672" y="1943"/></g>
<g id="mL5"><use href="#bx" x="732" y="487"/><use href="#bx" x="732" y="1631"/></g>
<g id="mL6"><use href="#bx" x="732" y="1060"/></g>
</g>

<g id="final">
<path class="bk" d="M792,1032.5V1025.5H853V1032.5M792,1087.5V1094.5H853V1087.5"/>
<path class="tk" d="M799,1052V1068M812.3,1052V1068M832.3,1052V1068M845.7,1052V1068M822.3,1016V1060"/>
</g>

<g id="matches-right">
<g id="mR1-279"><use href="#bx" x="1098.7" y="279"/><text class="s" y="264"><tspan x="1105.7">14</tspan><tspan x="1119">13</tspan><tspan x="1132.3">10</tspan><tspan x="1145.7">13</tspan></text><text class="s" y="298.5"><tspan x="1105.7" class="b">4</tspan><tspan x="1119" class="b">8</tspan><tspan x="1132.3">16</tspan><tspan x="1145.7">13</tspan></text><text class="tt" x="1125.7" y="240.5">50</text><text class="tt" x="1125.7" y="327.5">41</text></g>
<g id="mR1-383"><use href="#bx" x="1098.7" y="383"/><text class="s" y="368"><tspan x="1105.7" class="b">9</tspan><tspan x="1119">13</tspan><tspan x="1132.3" class="b">8</tspan><tspan x="1145.7" class="b">8</tspan></text><text class="s" y="402.5"><tspan x="1105.7">42</tspan><tspan x="1119">23</tspan><tspan x="1132.3">43</tspan><tspan x="1145.7">29</tspan></text><text class="tt" x="1125.7" y="344.5">38</text><text class="tt t3" x="1125.7" y="430.5">137</text></g>
<g id="mR1-591"><use href="#bx" x="1098.7" y="591"/><text class="s" y="576"><tspan x="1105.7">12</tspan><tspan x="1119">16</tspan><tspan x="1132.3">10</tspan><tspan x="1145.7">20</tspan></text><text class="s" y="610.5"><tspan x="1105.7">13</tspan><tspan x="1119" class="b">8</tspan><tspan x="1132.3">23</tspan><tspan x="1145.7">12</tspan></text><text class="tt" x="1125.7" y="552.5">58</text><text class="tt" x="1125.7" y="639.5">56</text></g>
<g id="mR1-694"><use href="#bx" x="1098.7" y="694"/><text class="s" y="679"><tspan x="1105.7">15</tspan><tspan x="1119" class="b">8</tspan><tspan x="1132.3" class="b">9</tspan><tspan x="1145.7">15</tspan></text><text class="s" y="713.5"><tspan x="1105.7">25</tspan><tspan x="1119">26</tspan><tspan x="1132.3">22</tspan><tspan x="1145.7">13</tspan></text><text class="tt" x="1125.7" y="655.5">47</text><text class="tt" x="1125.7" y="742.5">86</text></g>
<g id="mR1-851"><use href="#bx5" x="1098.7" y="851"/><text class="s" y="836" style="font-size:4.5px"><tspan x="1105.7">16</tspan><tspan x="1115.7">10</tspan><tspan x="1125.7">25</tspan><tspan x="1135.7">18</tspan><tspan x="1145.7" class="b">3</tspan></text><text class="s" y="870.5" style="font-size:4.5px"><tspan x="1105.7">14</tspan><tspan x="1115.7">21</tspan><tspan x="1125.7">17</tspan><tspan x="1135.7">17</tspan><tspan x="1145.7" class="b">5</tspan></text><text class="tt" x="1125.7" y="812.5">72</text><text class="tt" x="1125.7" y="899.5">74</text></g>
<g id="mR1-955"><use href="#bx" x="1098.7" y="955"/><text class="s" y="940"><tspan x="1105.7" class="b">5</tspan><tspan x="1119">11</tspan><tspan x="1132.3">15</tspan><tspan x="1145.7">26</tspan></text><text class="s" y="974.5"><tspan x="1105.7">24</tspan><tspan x="1119">32</tspan><tspan x="1132.3">23</tspan><tspan x="1145.7">14</tspan></text><text class="tt" x="1125.7" y="916.5">57</text><text class="tt" x="1125.7" y="1003.5">93</text></g>
<g id="mR1-1163"><use href="#bx" x="1098.7" y="1163"/><text class="s" y="1148"><tspan x="1105.7">22</tspan><tspan x="1119">23</tspan><tspan x="1132.3">31</tspan><tspan x="1145.7">20</tspan></text><text class="s" y="1182.5"><tspan x="1105.7">14</tspan><tspan x="1119" class="b">4</tspan><tspan x="1132.3">15</tspan><tspan x="1145.7">24</tspan></text><text class="tt" x="1125.7" y="1124.5">96</text><text class="tt" x="1125.7" y="1211.5">57</text></g>
<g id="mR1-1267"><use href="#bx" x="1098.7" y="1267"/><text class="s" y="1252"><tspan x="1105.7">22</tspan><tspan x="1119">18</tspan><tspan x="1132.3">14</tspan><tspan x="1145.7">11</tspan></text><text class="s" y="1286.5"><tspan x="1105.7">15</tspan><tspan x="1119">27</tspan><tspan x="1132.3">20</tspan><tspan x="1145.7">26</tspan></text><text class="tt" x="1125.7" y="1228.5">65</text><text class="tt" x="1125.7" y="1315.5">88</text></g>
<g id="mR1-1475"><use href="#bx" x="1098.7" y="1475"/><text class="s" y="1460"><tspan x="1105.7">32</tspan><tspan x="1119">20</tspan><tspan x="1132.3">31</tspan><tspan x="1145.7">12</tspan></text><text class="s" y="1494.5"><tspan x="1105.7" class="b">2</tspan><tspan x="1119" class="b">9</tspan><tspan x="1132.3">11</tspan><tspan x="1145.7">15</tspan></text><text class="tt" x="1125.7" y="1436.5">95</text><text class="tt" x="1125.7" y="1523.5">37</text></g>
<g id="mR1-1579"><use href="#bx" x="1098.7" y="1579"/><text class="s" y="1564"><tspan x="1105.7">17</tspan><tspan x="1119">12</tspan><tspan x="1132.3">22</tspan><tspan x="1145.7">18</tspan></text><text class="s" y="1598.5"><tspan x="1105.7">12</tspan><tspan x="1119" class="b">8</tspan><tspan x="1132.3">16</tspan><tspan x="1145.7">14</tspan></text><text class="tt" x="1125.7" y="1540.5">69</text><text class="tt" x="1125.7" y="1627.5">50</text></g>
<g id="mR1-1787"><use href="#bx" x="1098.7" y="1787"/><text class="s" y="1772"><tspan x="1105.7" class="b">0</tspan><tspan x="1119" class="b">3</tspan><tspan x="1132.3">10</tspan><tspan x="1145.7" class="b">6</tspan></text><text class="s" y="1806.5"><tspan x="1105.7">20</tspan><tspan x="1119">27</tspan><tspan x="1132.3">18</tspan><tspan x="1145.7">14</tspan></text><text class="tt" x="1125.7" y="1748.5">19</text><text class="tt" x="1125.7" y="1835.5">79</text></g>
<g id="mR1-1891"><use href="#bx" x="1098.7" y="1891"/><text class="s" y="1876"><tspan x="1105.7" class="b">8</tspan><tspan x="1119" class="b">8</tspan><tspan x="1132.3">18</tspan><tspan x="1145.7">11</tspan></text><text class="s" y="1910.5"><tspan x="1105.7" class="b">9</tspan><tspan x="1119">14</tspan><tspan x="1132.3" class="b">6</tspan><tspan x="1145.7">13</tspan></text><text class="tt" x="1125.7" y="1852.5">45</text><text class="tt" x="1125.7" y="1939.5">42</text></g>
<g id="mR1-2047"><use href="#bx" x="1098.7" y="2047"/><text class="s" y="2032"><tspan x="1105.7">19</tspan><tspan x="1119">21</tspan><tspan x="1132.3">19</tspan><tspan x="1145.7">12</tspan></text><text class="s" y="2066.5"><tspan x="1105.7" class="b">6</tspan><tspan x="1119">12</tspan><tspan x="1132.3" class="b">4</tspan><tspan x="1145.7" class="b">8</tspan></text><text class="tt" x="1125.7" y="2008.5">71</text><text class="tt" x="1125.7" y="2095.5">30</text></g>
<g id="mR1-2151"><use href="#bx" x="1098.7" y="2151"/><text class="s" y="2136"><tspan x="1105.7">17</tspan><tspan x="1119">12</tspan><tspan x="1132.3">21</tspan><tspan x="1145.7">19</tspan></text><text class="s" y="2170.5"><tspan x="1105.7">13</tspan><tspan x="1119">14</tspan><tspan x="1132.3">14</tspan><tspan x="1145.7">11</tspan></text><text class="tt" x="1125.7" y="2112.5">69</text><text class="tt" x="1125.7" y="2199.5">52</text></g>

<g id="mR2-236"><use href="#bx" x="1038.7" y="236"/><text class="s" y="221"><tspan x="1045.7">29</tspan><tspan x="1059">17</tspan><tspan x="1072.3">29</tspan><tspan x="1085.7">16</tspan></text><text class="s" y="255.5"><tspan x="1045.7">13</tspan><tspan x="1059">25</tspan><tspan x="1072.3">20</tspan><tspan x="1085.7">23</tspan></text><text class="tt" x="1065.7" y="193.5">91</text><text class="tt" x="1065.7" y="288.5">81</text></g>
<g id="mR2-426"><use href="#bx" x="1038.7" y="426"/><text class="s" y="411"><tspan x="1045.7">16</tspan><tspan x="1059">21</tspan><tspan x="1072.3">21</tspan><tspan x="1085.7">14</tspan></text><text class="s" y="445.5"><tspan x="1045.7">18</tspan><tspan x="1059">18</tspan><tspan x="1072.3" class="b">6</tspan><tspan x="1085.7" class="b">4</tspan></text><text class="tt" x="1065.7" y="383.5">72</text><text class="tt" x="1065.7" y="478.5">46</text></g>
<g id="mR2-547"><use href="#bx" x="1038.7" y="547"/><text class="s" y="532"><tspan x="1045.7" class="b">7</tspan><tspan x="1059">11</tspan><tspan x="1072.3">18</tspan><tspan x="1085.7">15</tspan></text><text class="s" y="566.5"><tspan x="1045.7">28</tspan><tspan x="1059">22</tspan><tspan x="1072.3">25</tspan><tspan x="1085.7">14</tspan></text><text class="tt" x="1065.7" y="504.5">51</text><text class="tt" x="1065.7" y="599.5">89</text></g>
<g id="mR2-739"><use href="#bx" x="1038.7" y="739"/><text class="s" y="724"><tspan x="1045.7">14</tspan><tspan x="1059">17</tspan><tspan x="1072.3">14</tspan><tspan x="1085.7">12</tspan></text><text class="s" y="758.5"><tspan x="1045.7">15</tspan><tspan x="1059">20</tspan><tspan x="1072.3">18</tspan><tspan x="1085.7">16</tspan></text><text class="tt" x="1065.7" y="696.5">57</text><text class="tt" x="1065.7" y="791.5">69</text></g>
<g id="mR2-998"><use href="#bx" x="1038.7" y="998"/><text class="s" y="983"><tspan x="1045.7">11</tspan><tspan x="1059">20</tspan><tspan x="1072.3">23</tspan><tspan x="1085.7">16</tspan></text><text class="s" y="1017.5"><tspan x="1045.7">10</tspan><tspan x="1059">10</tspan><tspan x="1072.3">14</tspan><tspan x="1085.7">24</tspan></text><text class="tt" x="1065.7" y="955.5">70</text><text class="tt" x="1065.7" y="1050.5">58</text></g>
<g id="mR2-1120"><use href="#bx" x="1038.7" y="1120"/><text class="s" y="1105"><tspan x="1045.7">13</tspan><tspan x="1059" class="b">7</tspan><tspan x="1072.3">17</tspan><tspan x="1085.7">12</tspan></text><text class="s" y="1139.5"><tspan x="1045.7">36</tspan><tspan x="1059">25</tspan><tspan x="1072.3">12</tspan><tspan x="1085.7">23</tspan></text><text class="tt" x="1065.7" y="1077.5">49</text><text class="tt" x="1065.7" y="1172.5">96</text></g>
<g id="mR2-1311"><use href="#bx" x="1038.7" y="1311"/><text class="s" y="1296"><tspan x="1045.7">36</tspan><tspan x="1059">26</tspan><tspan x="1072.3">15</tspan><tspan x="1085.7">27</tspan></text><text class="s" y="1330.5"><tspan x="1045.7">13</tspan><tspan x="1059">16</tspan><tspan x="1072.3">18</tspan><tspan x="1085.7">10</tspan></text><text class="tt t3" x="1065.7" y="1267.5">104</text><text class="tt" x="1065.7" y="1363.5">57</text></g>
<g id="mR2-1432"><use href="#bx" x="1038.7" y="1432"/><text class="s" y="1417"><tspan x="1045.7">25</tspan><tspan x="1059">22</tspan><tspan x="1072.3">25</tspan><tspan x="1085.7">33</tspan></text><text class="s" y="1451.5"><tspan x="1045.7" class="b">9</tspan><tspan x="1059">12</tspan><tspan x="1072.3">19</tspan><tspan x="1085.7" class="b">2</tspan></text><text class="tt t3" x="1065.7" y="1388.5">105</text><text class="tt" x="1065.7" y="1484.5">42</text></g>
<g id="mR2-1623"><use href="#bx" x="1038.7" y="1623"/><text class="s" y="1608"><tspan x="1045.7">18</tspan><tspan x="1059">14</tspan><tspan x="1072.3">15</tspan><tspan x="1085.7">10</tspan></text><text class="s" y="1642.5"><tspan x="1045.7">21</tspan><tspan x="1059">17</tspan><tspan x="1072.3">15</tspan><tspan x="1085.7">31</tspan></text><text class="tt" x="1065.7" y="1580.5">57</text><text class="tt" x="1065.7" y="1675.5">84</text></g>
<g id="mR2-1743"><use href="#bx" x="1038.7" y="1743"/><text class="s" y="1728"><tspan x="1045.7">22</tspan><tspan x="1059">13</tspan><tspan x="1072.3">22</tspan><tspan x="1085.7">23</tspan></text><text class="s" y="1762.5"><tspan x="1045.7">20</tspan><tspan x="1059">16</tspan><tspan x="1072.3">15</tspan><tspan x="1085.7" class="b">6</tspan></text><text class="tt" x="1065.7" y="1700.5">80</text><text class="tt" x="1065.7" y="1795.5">57</text></g>
<g id="mR2-1934"><use href="#bx" x="1038.7" y="1934"/><text class="s" y="1919"><tspan x="1045.7">17</tspan><tspan x="1059">20</tspan><tspan x="1072.3">15</tspan><tspan x="1085.7">21</tspan></text><text class="s" y="1953.5"><tspan x="1045.7">13</tspan><tspan x="1059">16</tspan><tspan x="1072.3">20</tspan><tspan x="1085.7">11</tspan></text><text class="tt" x="1065.7" y="1891.5">73</text><text class="tt" x="1065.7" y="1986.5">60</text></g>
<g id="mR2-2195"><use href="#bx" x="1038.7" y="2195"/><text class="s" y="2180"><tspan x="1045.7" class="b">7</tspan><tspan x="1059" class="b">5</tspan><tspan x="1072.3" class="b">4</tspan><tspan x="1085.7" class="b">3</tspan></text><text class="s" y="2214.5"><tspan x="1045.7">26</tspan><tspan x="1059">29</tspan><tspan x="1072.3">21</tspan><tspan x="1085.7">28</tspan></text><text class="tt" x="1065.7" y="2152.5">19</text><text class="tt t3" x="1065.7" y="2243.5">104</text></g>

<g id="mR3"><use href="#bx" x="978.7" y="331"/><use href="#bx" x="978.7" y="643"/><use href="#bx" x="978.7" y="920"/><use href="#bx" x="978.7" y="1215"/><use href="#bx" x="978.7" y="1527"/><use href="#bx" x="978.7" y="1839"/><use href="#bx" x="978.7" y="2116"/></g>
<g id="mR4"><use href="#bx" x="918.7" y="236"/><use href="#bx" x="918.7" y="799"/><use href="#bx" x="918.7" y="1371"/><use href="#bx" x="918.7" y="1969"/></g>
<g id="mR5"><use href="#bx" x="858.7" y="487"/><use href="#bx" x="858.7" y="1631"/></g>
<g id="mR6"><use href="#bx" x="858.7" y="1060"/></g>
</g>
</svg>
